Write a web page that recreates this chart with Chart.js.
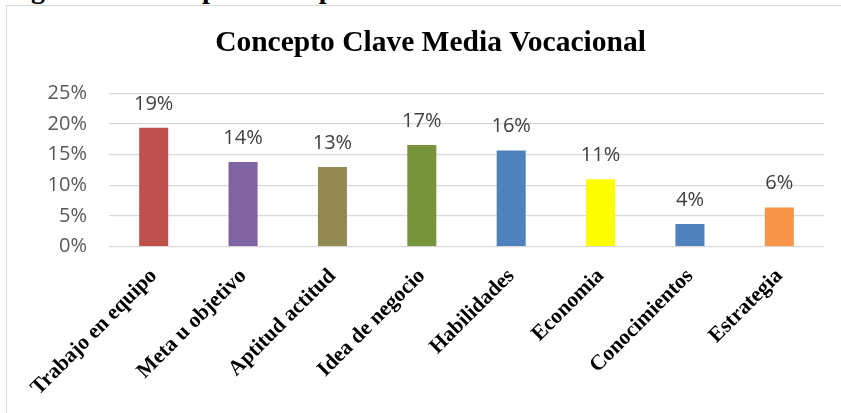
<!DOCTYPE html>
<html>
<head>
<meta charset="utf-8">
<script src="https://cdn.jsdelivr.net/npm/chart.js@4.4.1/dist/chart.umd.min.js"></script>
<style>
  html, body { margin: 0; padding: 0; background: #fff; width: 841px; height: 413px; overflow: hidden; }
  #caption { position: absolute; left: 6px; top: -25px; font: bold 28px/28px "Liberation Serif", serif; color: #000; white-space: nowrap; }
  #frame { position: absolute; left: 6px; top: 5px; width: 900px; height: 500px; border-left: 1.5px solid #d9d9d9; border-top: 1.5px solid #d9d9d9; }
  #chart { position: absolute; left: 7px; top: 6px; }
</style>
</head>
<body>
<div id="caption">Figura 11 Concepto de emprendimiento media vocacional</div>
<div id="frame"></div>
<canvas id="chart" width="847" height="420"></canvas>
<script>
const categories = ['Trabajo en equipo', 'Meta u objetivo', 'Aptitud actitud', 'Idea de negocio',
                    'Habilidades', 'Economia', 'Conocimientos', 'Estrategia'];
const values = [19.4, 13.8, 13.0, 16.6, 15.7, 11.0, 3.7, 6.4];
const barColors = ['#C0504D', '#8064A2', '#938953', '#77933C', '#4F81BD', '#FFFF00', '#4F81BD', '#F79646'];
const yTicks = [0, 5, 10, 15, 20, 25];

// percent labels above each bar, placed from the bar elements
const barLabels = {
    id: 'barLabels',
    afterDatasetsDraw(chart) {
        const ctx = chart.ctx;
        const meta = chart.getDatasetMeta(0);
        ctx.save();
        ctx.font = '20px "Open Sans"';
        ctx.fillStyle = '#404040';
        ctx.textAlign = 'center';
        ctx.textBaseline = 'alphabetic';
        meta.data.forEach((bar, i) => {
            ctx.fillText(Math.round(values[i]) + '%', bar.x, bar.y - 18);
        });
        ctx.restore();
    }
};

const ctx = document.querySelector('#chart').getContext('2d');

new Chart(ctx, {
    type: 'bar',
    data: {
        labels: categories,
        datasets: [{
            data: values,
            backgroundColor: barColors,
            borderWidth: 0,
            categoryPercentage: 1,
            barPercentage: 0.325
        }]
    },
    options: {
        responsive: false,
        animation: false,
        devicePixelRatio: 1,
        layout: { padding: 0 },
        plugins: {
            legend: { display: false },
            tooltip: { enabled: false },
            title: {
                display: true,
                text: 'Concepto Clave Media Vocacional',
                color: '#000',
                font: { family: 'Liberation Serif', size: 29.5, weight: 'bold' },
                padding: { top: 20, bottom: 32 }
            }
        },
        scales: {
            y: {
                min: 0,
                max: 25,
                afterBuildTicks: s => { s.ticks = yTicks.map(v => ({ value: v })); },
                afterFit: s => { s.width = 102; },
                border: { display: false },
                grid: { color: '#d9d9d9', lineWidth: 1.3, drawTicks: false },
                ticks: {
                    padding: 22,
                    color: '#595959',
                    font: { family: 'Open Sans', size: 20 },
                    callback: v => v + '%'
                }
            },
            // empty right margin so the title centres on the whole frame
            right: {
                type: 'linear',
                position: 'right',
                afterFit: s => { s.width = 30; },
                border: { display: false },
                grid: { display: false },
                ticks: { display: false }
            },
            x: {
                afterFit: s => { s.height = 179.3; },
                border: { display: false },
                grid: { display: false },
                ticks: {
                    autoSkip: false,
                    minRotation: 45,
                    maxRotation: 45,
                    padding: 9,
                    color: '#000',
                    font: { family: 'Liberation Serif', size: 21.5, weight: 'bold' }
                }
            }
        }
    },
    plugins: [barLabels]
});
</script>
</body>
</html>
